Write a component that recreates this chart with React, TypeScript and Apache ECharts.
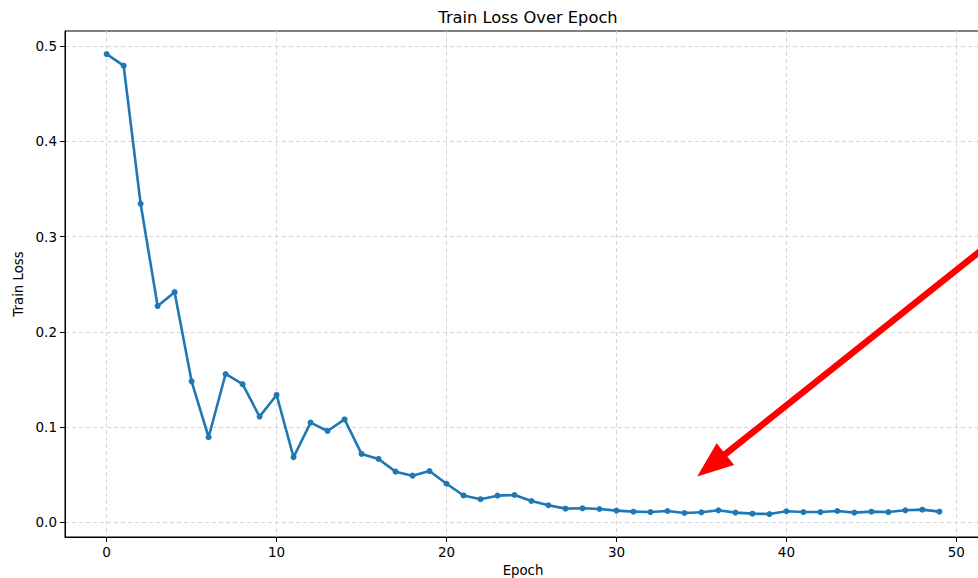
import React, { useEffect, useRef } from "react";
import * as echarts from "echarts";

// Training loss per epoch
const epochs: number[] = Array.from({ length: 50 }, (_, i) => i);
const trainLoss: number[] = [
  0.4915, 0.4793, 0.3344, 0.227, 0.2416, 0.148, 0.0893, 0.1557, 0.145, 0.111,
  0.1337, 0.0683, 0.1047, 0.0959, 0.108, 0.0718, 0.0665, 0.0532, 0.049, 0.0538,
  0.0405, 0.0282, 0.0243, 0.028, 0.0287, 0.0224, 0.0179, 0.0144, 0.0147, 0.014,
  0.0123, 0.0112, 0.0108, 0.0119, 0.0098, 0.0105, 0.0126, 0.0102, 0.0091, 0.0087,
  0.0116, 0.0108, 0.0108, 0.0119, 0.0102, 0.0112, 0.0108, 0.0126, 0.0133, 0.0112,
];
const xTicks: number[] = [0, 10, 20, 30, 40, 50];
const yTicks: number[] = [0, 0.1, 0.2, 0.3, 0.4, 0.5];

// Annotation arrow, in data coordinates: tip and tail
const arrowTip: [number, number] = [34.75, 0.048];
const arrowTail: [number, number] = [56, 0.35];

const FONT = "DejaVu Sans";

export default function App() {
  const ref = useRef<HTMLDivElement>(null);

  useEffect(() => {
    if (!ref.current) return;
    const chart = echarts.init(ref.current, undefined, { renderer: "svg" });
    const axisCommon = {
      type: "value" as const,
      axisLine: { show: true, onZero: false, lineStyle: { color: "#000", width: 1 } },
      axisTick: { show: true, length: 5, lineStyle: { color: "#000", width: 1 } },
      splitLine: {
        show: true,
        lineStyle: { color: "#d6d6d6", type: [4, 3] as any, width: 1 },
      },
      nameLocation: "middle" as const,
      nameTextStyle: { fontFamily: FONT, fontSize: 13.3, color: "#000" },
    };
    chart.setOption({
      animation: false,
      backgroundColor: "#fff",
      title: {
        text: "Train Loss Over Epoch",
        left: 523,
        top: 4,
        textAlign: "center",
        textStyle: { fontFamily: FONT, fontSize: 16.3, fontWeight: "normal", color: "#000" },
      },
      grid: {
        left: 65,
        top: 31,
        right: -3,
        bottom: 41,
        outerBoundsMode: "none",
        containLabel: false,
        show: true,
        borderColor: "#000",
        borderWidth: 1,
        backgroundColor: "transparent",
      },
      xAxis: {
        ...axisCommon,
        min: -2.45,
        max: 51.45,
        name: "Epoch",
        nameGap: 27,
        axisTick: { ...axisCommon.axisTick, customValues: xTicks },
        axisLabel: {
          customValues: xTicks,
          fontFamily: FONT,
          fontSize: 13.5,
          color: "#000",
          margin: 8,
        },
      },
      yAxis: {
        ...axisCommon,
        min: -0.0154,
        max: 0.5157,
        name: "Train Loss",
        nameGap: 40,
        axisTick: { ...axisCommon.axisTick, customValues: yTicks },
        axisLabel: {
          customValues: yTicks,
          fontFamily: FONT,
          fontSize: 13.5,
          color: "#000",
          margin: 8,
          formatter: (v: number) => v.toFixed(1),
        },
      },
      series: [
        {
          type: "line",
          data: epochs.map((e, i) => [e, trainLoss[i]]),
          symbol: "circle",
          symbolSize: 6,
          showSymbol: true,
          lineStyle: { color: "#1f77b4", width: 2.6 },
          itemStyle: { color: "#1f77b4" },
          z: 3,
        },
      ],
    });

    // Red arrow drawn from data coordinates
    const tip = chart.convertToPixel({ gridIndex: 0 }, arrowTip) as number[];
    const tail = chart.convertToPixel({ gridIndex: 0 }, arrowTail) as number[];
    const dx = tail[0] - tip[0];
    const dy = tail[1] - tip[1];
    const len = Math.hypot(dx, dy);
    const ux = dx / len;
    const uy = dy / len;
    const headLen = 36;
    const headHalf = 14;
    const bx = tip[0] + ux * headLen;
    const by = tip[1] + uy * headLen;
    const px = -uy;
    const py = ux;
    chart.setOption({
      graphic: [
        {
          type: "line",
          shape: { x1: bx - ux * 2, y1: by - uy * 2, x2: tail[0], y2: tail[1] },
          style: { stroke: "#ff0000", lineWidth: 6.5 },
          z: 10,
        },
        {
          type: "polygon",
          shape: {
            points: [
              [tip[0], tip[1]],
              [bx + px * headHalf, by + py * headHalf],
              [bx - px * headHalf, by - py * headHalf],
            ],
          },
          style: { fill: "#ff0000" },
          z: 10,
        },
      ],
    });

    return () => chart.dispose();
  }, []);

  return (
    <div
      ref={ref}
      style={{ position: "absolute", left: 0, top: 0, width: 978, height: 578 }}
    />
  );
}
